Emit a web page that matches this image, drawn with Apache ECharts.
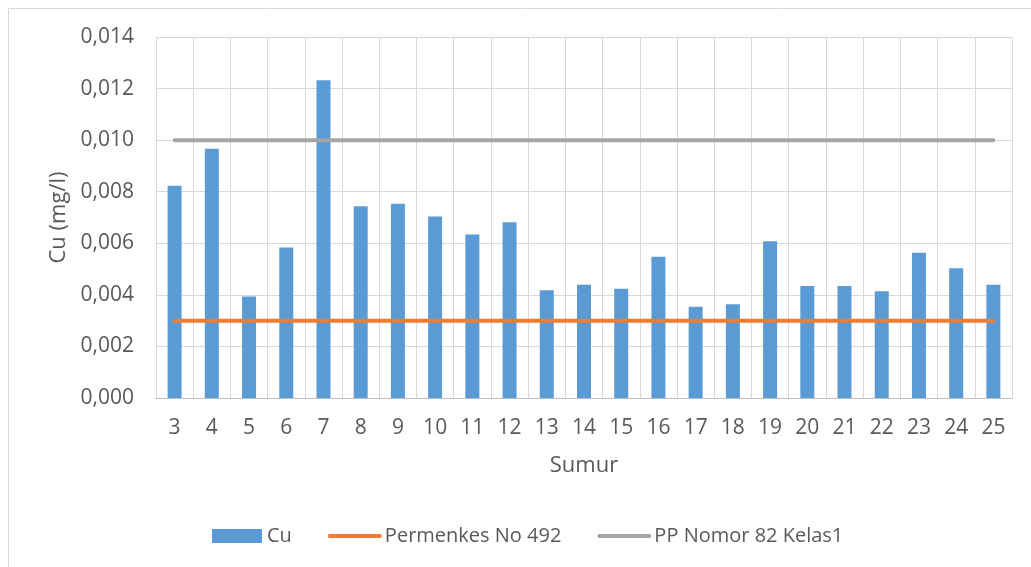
<!DOCTYPE html>
<html>
<head>
<meta charset="utf-8">
<script src="https://cdn.jsdelivr.net/npm/echarts@6/dist/echarts.min.js"></script>
<style>
  html, body { margin: 0; padding: 0; background: #ffffff; }
  #chart { width: 1031px; height: 567px; }
</style>
</head>
<body>
<div id="chart"></div>
<script>
// Well numbers (Sumur) along the x axis
const sumur = ['3','4','5','6','7','8','9','10','11','12','13','14','15','16','17','18','19','20','21','22','23','24','25'];
// Measured copper concentration per well, mg/l
const cu = [0.00823, 0.00967, 0.00394, 0.00584, 0.01232, 0.00744, 0.00753, 0.00704, 0.00634, 0.00682,
            0.00418, 0.00439, 0.00424, 0.00548, 0.00354, 0.00364, 0.00608, 0.00434, 0.00434, 0.00414,
            0.00563, 0.00503, 0.00439];
// Regulatory limits, mg/l
const permenkesLimit = 0.003;
const ppKelas1Limit = 0.010;
const permenkes = sumur.map(() => permenkesLimit);
const ppKelas1 = sumur.map(() => ppKelas1Limit);
// Y axis range and step
const yMin = 0, yMax = 0.014, yStep = 0.002;

const FONT = '"Open Sans", "Noto Sans", sans-serif';
const TEXT = '#595959';

const chart = echarts.init(document.getElementById('chart'), null, { renderer: 'canvas' });
chart.setOption({
  backgroundColor: '#ffffff',
  animation: false,
  textStyle: { fontFamily: FONT, color: TEXT },
  graphic: [{
    type: 'rect',
    silent: true,
    z: -10,
    shape: { x: 8.5, y: 8.5, width: 1100, height: 700 },
    style: { fill: 'none', stroke: '#d9d9d9', lineWidth: 1 }
  }],
  grid: { left: 156, right: 19, top: 37, bottom: 169, containLabel: false },
  legend: {
    left: 212,
    top: 526,
    padding: 0,
    itemWidth: 50,
    itemHeight: 14,
    itemGap: 36,
    textStyle: { fontFamily: FONT, fontSize: 20, color: TEXT },
    data: [
      { name: 'Cu', icon: 'rect' },
      { name: 'Permenkes No 492', itemStyle: { opacity: 0 }, lineStyle: { width: 4, cap: 'round' } },
      { name: 'PP Nomor 82 Kelas1', itemStyle: { opacity: 0 }, lineStyle: { width: 4, cap: 'round' } }
    ]
  },
  xAxis: {
    type: 'category',
    data: sumur,
    boundaryGap: true,
    name: 'Sumur',
    nameLocation: 'middle',
    nameGap: 57,
    nameTextStyle: { fontFamily: FONT, fontSize: 22, color: TEXT },
    axisLine: { show: true, lineStyle: { color: '#bfbfbf', width: 1 } },
    axisTick: { show: false },
    axisLabel: { fontFamily: FONT, fontSize: 21, color: TEXT, margin: 20, interval: 0 },
    splitLine: { show: true, lineStyle: { color: '#d9d9d9', width: 1 } }
  },
  yAxis: {
    type: 'value',
    min: yMin,
    max: yMax,
    interval: yStep,
    name: 'Cu (mg/l)',
    nameLocation: 'middle',
    nameGap: 82,
    nameTextStyle: { fontFamily: FONT, fontSize: 22, color: TEXT },
    axisLine: { show: true, lineStyle: { color: '#d9d9d9', width: 1 } },
    axisTick: { show: false },
    axisLabel: {
      fontFamily: FONT, fontSize: 21, color: TEXT, margin: 22,
      formatter: v => v.toFixed(3).replace('.', ',')
    },
    splitLine: { show: true, lineStyle: { color: '#d9d9d9', width: 1 } }
  },
  series: [
    {
      name: 'Cu',
      type: 'bar',
      data: cu,
      barWidth: 14,
      itemStyle: { color: '#5b9bd5' },
      z: 2
    },
    {
      name: 'Permenkes No 492',
      type: 'line',
      data: permenkes,
      symbol: 'none',
      lineStyle: { color: '#ed7d31', width: 4, cap: 'round' },
      itemStyle: { color: '#ed7d31' },
      z: 3
    },
    {
      name: 'PP Nomor 82 Kelas1',
      type: 'line',
      data: ppKelas1,
      symbol: 'none',
      lineStyle: { color: '#a5a5a5', width: 4, cap: 'round' },
      itemStyle: { color: '#a5a5a5' },
      z: 3
    }
  ]
});
</script>
</body>
</html>
